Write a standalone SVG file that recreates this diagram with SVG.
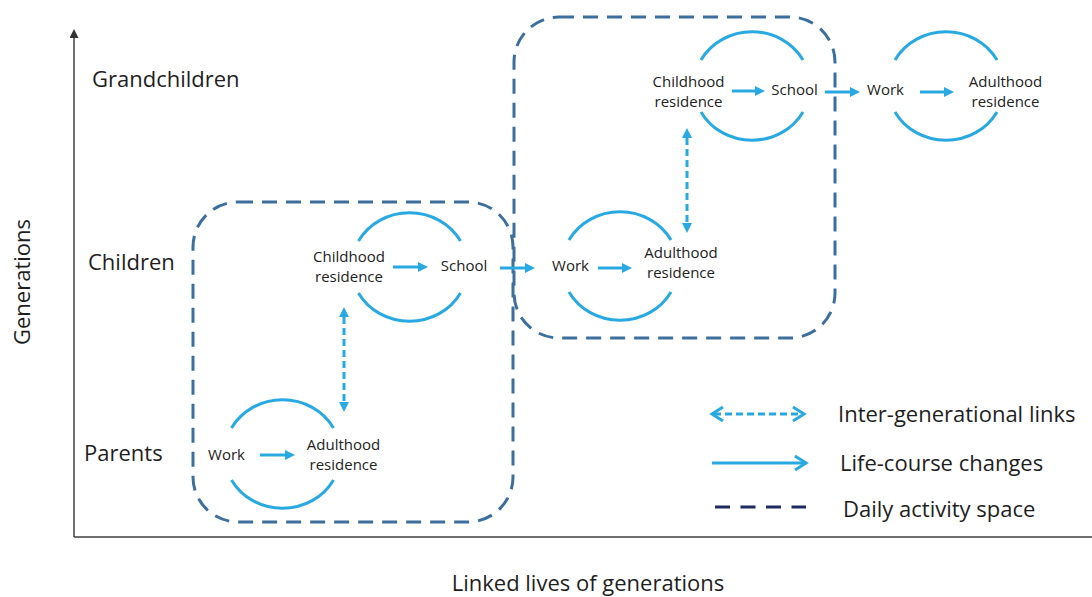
<svg xmlns="http://www.w3.org/2000/svg" width="1092" height="597" viewBox="0 0 1092 597">
<style>
  .lbl{font-family:"Open Sans","Liberation Sans",sans-serif;font-size:22px;fill:#1e1e1e}
  .nt{font-family:"Open Sans","Liberation Sans",sans-serif;font-size:15px;fill:#222;text-anchor:middle}
  .ring{fill:none;stroke:#29a9e1;stroke-width:3}
  .flow{stroke:#29a9e1;stroke-width:3;fill:none}
  .link{stroke:#29a9e1;stroke-width:3;fill:none;stroke-dasharray:7 4}
  .space{fill:none;stroke:#3d6f9c;stroke-width:3;stroke-dasharray:15 9}
  .axis{stroke:#404040;stroke-width:1.5;fill:none}
</style>
<defs>
  <path id="ring" d="M -51 -26 A 58 54 0 0 1 51 -26 M -51 26 A 58 54 0 0 0 51 26"/>
  <marker id="tri" viewBox="0 0 10 10" refX="0" refY="5" markerWidth="10" markerHeight="10" markerUnits="userSpaceOnUse" orient="auto-start-reverse">
    <path d="M0,0 L10,5 L0,10 z" fill="#29a9e1"/>
  </marker>
  <marker id="axh" viewBox="0 0 10 10" refX="0" refY="5" markerWidth="10" markerHeight="9" markerUnits="userSpaceOnUse" orient="auto">
    <path d="M0,0 L10,5 L0,10 z" fill="#333"/>
  </marker>
</defs>

<g id="axes">
  <path class="axis" d="M74 537 L74 38" marker-end="url(#axh)"/>
  <path class="axis" d="M74 537 L1092 537"/>
  <text class="lbl" transform="translate(30 282) rotate(-90)" text-anchor="middle">Generations</text>
  <text class="lbl" x="588" y="591" text-anchor="middle">Linked lives of generations</text>
  <text class="lbl" x="92" y="87">Grandchildren</text>
  <text class="lbl" x="88" y="270">Children</text>
  <text class="lbl" x="84" y="461">Parents</text>
</g>

<g id="activity-spaces">
  <rect id="space-1" class="space" x="193" y="202" width="320" height="320" rx="45"/>
  <rect id="space-2" class="space" x="514" y="17" width="321" height="321" rx="45"/>
</g>

<g id="node-parents">
  <use href="#ring" class="ring" transform="translate(282.5 454)"/>
  <text class="nt" x="226.5" y="460">Work</text>
  <text class="nt" x="343.5" y="450">Adulthood</text>
  <text class="nt" x="343.5" y="470">residence</text>
</g>

<g id="node-children-1">
  <use href="#ring" class="ring" transform="translate(409.5 267)"/>
  <text class="nt" x="349" y="262">Childhood</text>
  <text class="nt" x="349" y="282">residence</text>
  <text class="nt" x="464" y="271">School</text>
</g>

<g id="node-children-2">
  <use href="#ring" class="ring" transform="translate(620 266)"/>
  <text class="nt" x="570.5" y="271">Work</text>
  <text class="nt" x="681" y="258">Adulthood</text>
  <text class="nt" x="681" y="278">residence</text>
</g>

<g id="node-grandchildren-1">
  <use href="#ring" class="ring" transform="translate(752 86)"/>
  <text class="nt" x="688.5" y="87">Childhood</text>
  <text class="nt" x="688.5" y="107">residence</text>
  <text class="nt" x="794.5" y="95">School</text>
</g>

<g id="node-grandchildren-2">
  <use href="#ring" class="ring" transform="translate(946 86)"/>
  <text class="nt" x="885.5" y="95">Work</text>
  <text class="nt" x="1005.5" y="87">Adulthood</text>
  <text class="nt" x="1005.5" y="107">residence</text>
</g>

<g id="connectors">
  <line class="flow" x1="260" y1="455" x2="285" y2="455" marker-end="url(#tri)"/>
  <line class="flow" x1="393" y1="267" x2="418" y2="267" marker-end="url(#tri)"/>
  <line class="flow" x1="500" y1="268" x2="525" y2="268" marker-end="url(#tri)"/>
  <line class="flow" x1="598" y1="268" x2="622" y2="268" marker-end="url(#tri)"/>
  <line class="flow" x1="732" y1="91" x2="755" y2="91" marker-end="url(#tri)"/>
  <line class="flow" x1="825" y1="92" x2="850" y2="92" marker-end="url(#tri)"/>
  <line class="flow" x1="920" y1="92" x2="944" y2="92" marker-end="url(#tri)"/>
  <line class="link" x1="344" y1="317" x2="344" y2="402" marker-start="url(#tri)" marker-end="url(#tri)"/>
  <line class="link" x1="687" y1="138" x2="687" y2="223" marker-start="url(#tri)" marker-end="url(#tri)"/>
</g>

<g id="legend">
  <line class="link" x1="714" y1="414" x2="802" y2="414" stroke-dasharray="6 4"/>
  <path class="flow" d="M723 407 L712 414 L723 421 M793 407 L804 414 L793 421"/>
  <text class="lbl" x="838" y="422">Inter-generational links</text>
  <line class="flow" x1="712" y1="463" x2="805" y2="463"/>
  <path class="flow" d="M795 456 L806 463 L795 470"/>
  <text class="lbl" x="840" y="471">Life-course changes</text>
  <line x1="715" y1="507" x2="806" y2="507" stroke="#1f2b5e" stroke-width="3" stroke-dasharray="15 10.5"/>
  <text class="lbl" x="843" y="517">Daily activity space</text>
</g>
</svg>
